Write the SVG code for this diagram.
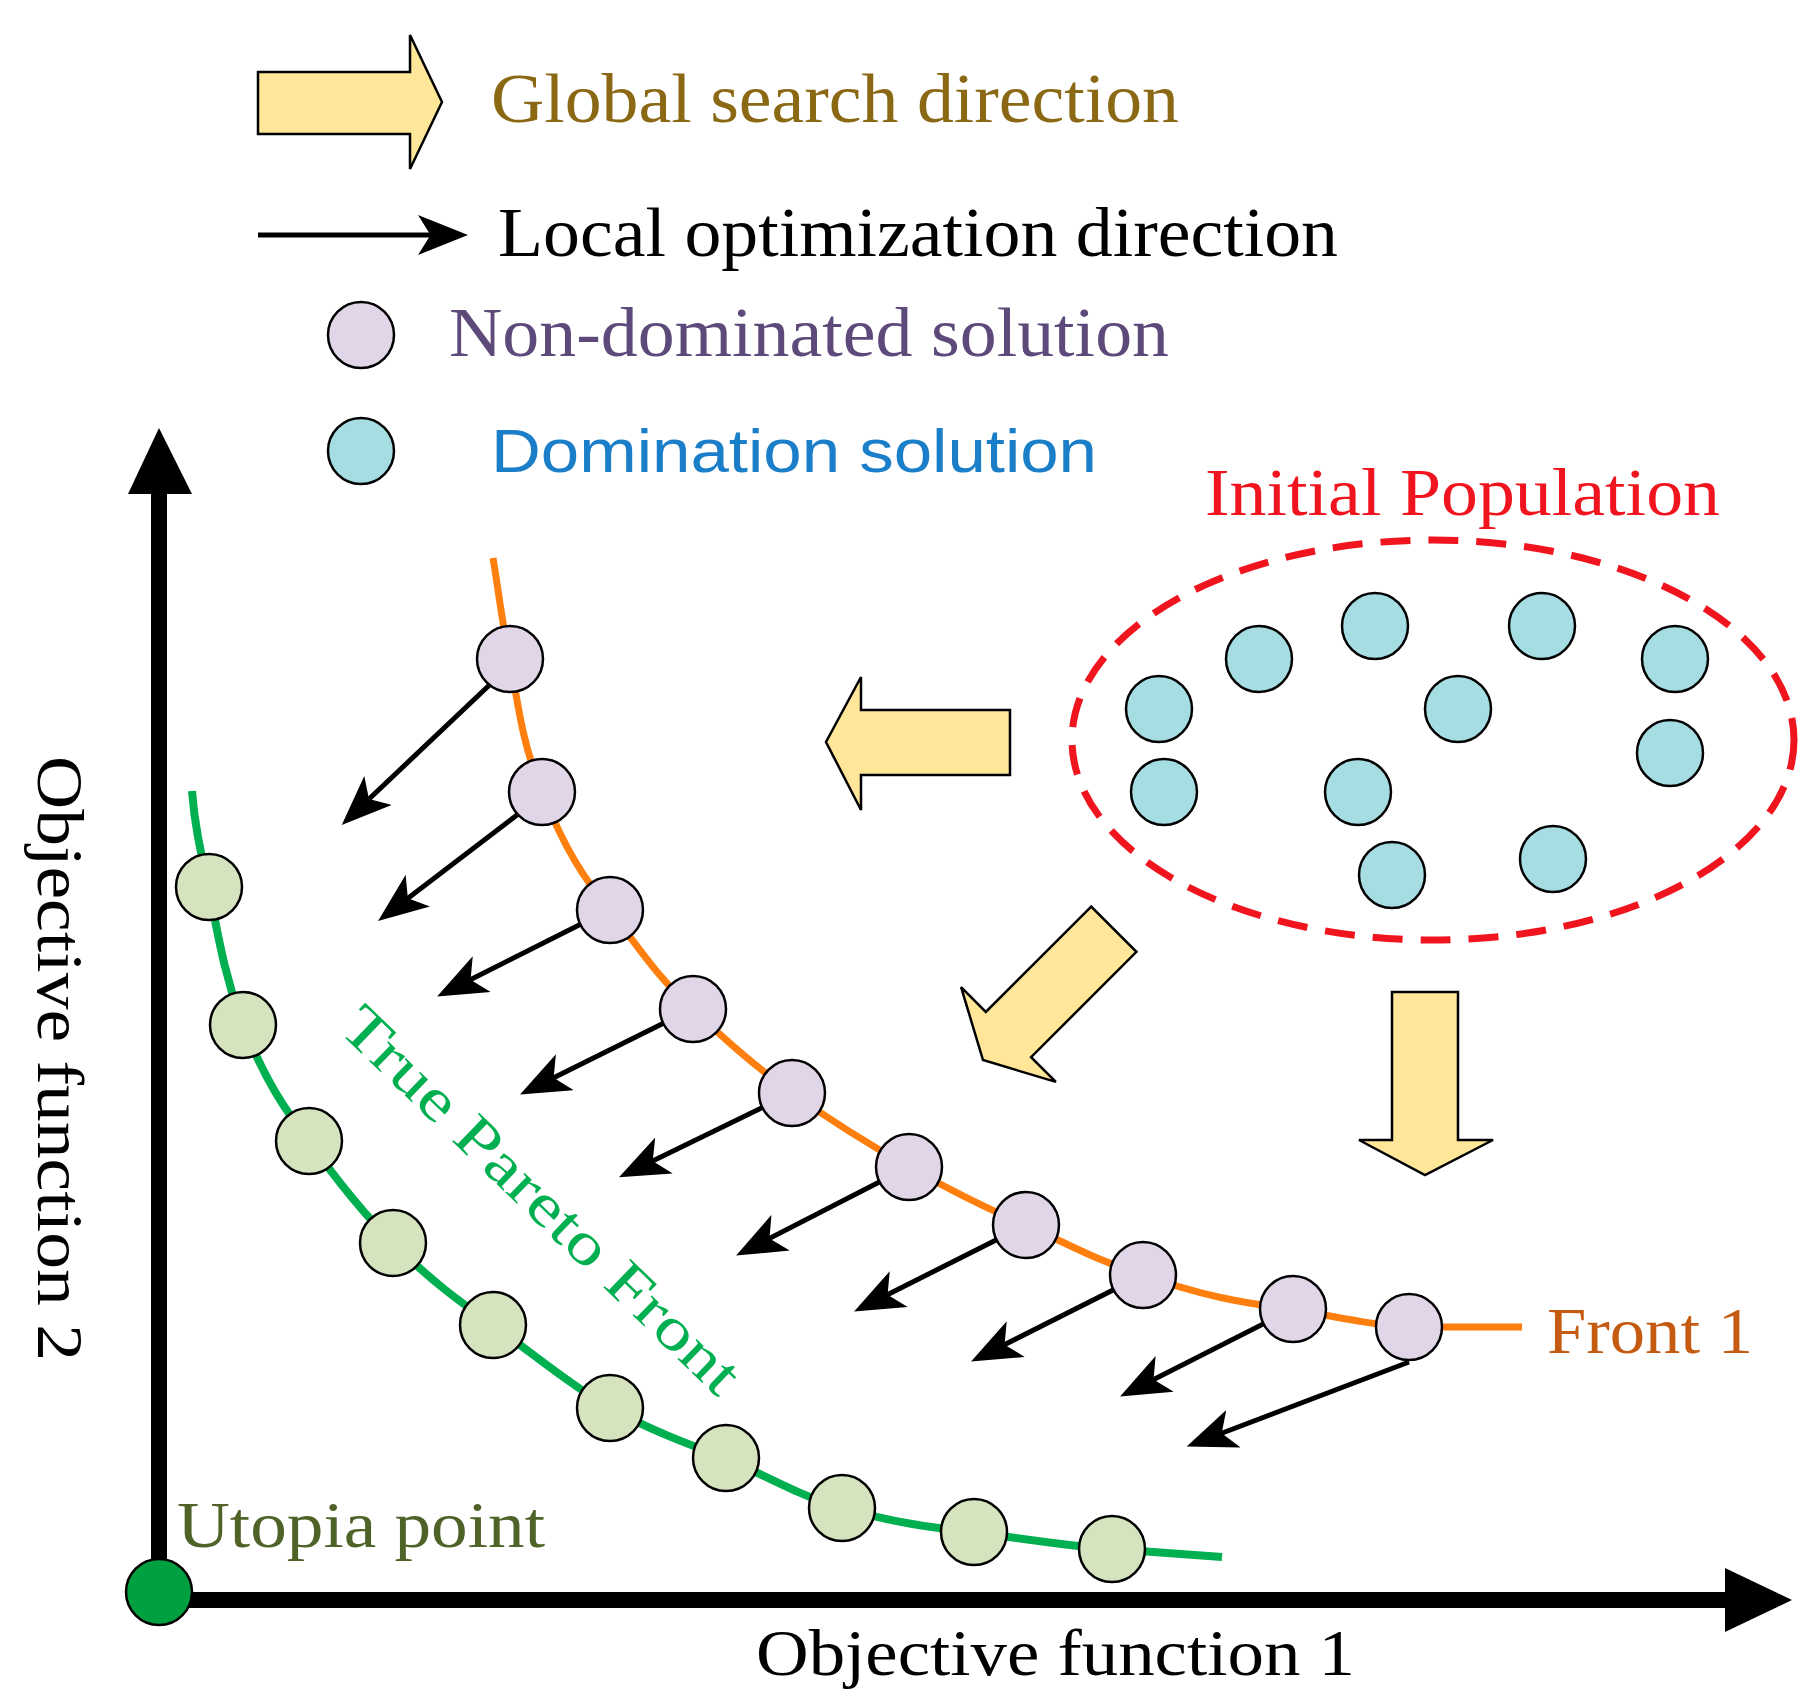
<svg xmlns="http://www.w3.org/2000/svg" width="1815" height="1702" viewBox="0 0 1815 1702">
<defs>
<marker id="ah" markerWidth="10" markerHeight="8" refX="8" refY="4" orient="auto" markerUnits="strokeWidth"><path d="M0,0 L10,4 L0,8 L2.5,4 Z" fill="#000"/></marker>
</defs>
<style>
.t{font-family:"Liberation Serif","Times New Roman",serif}
.ya{fill:#ffe699;stroke:#000;stroke-width:2.5}
.pc{fill:#e0d6e8;stroke:#000;stroke-width:2.5}
.cc{fill:#a5dde3;stroke:#000;stroke-width:2.5}
.gc{fill:#d5e3bf;stroke:#000;stroke-width:2.5}
.la{stroke:#000;stroke-width:5;fill:none;marker-end:url(#ah)}
</style>
<rect width="1815" height="1702" fill="#fff"/>
<g id="legend">
<path class="ya" d="M258,72 H410 V35 L442,102 L410,169 V134 H258 Z"/>
<text class="t" x="491" y="122" font-size="70" fill="#8b6914" textLength="688" lengthAdjust="spacingAndGlyphs">Global search direction</text>
<line class="la" x1="258" y1="235" x2="458" y2="235"/>
<text class="t" x="498" y="256" font-size="70" fill="#000" textLength="840" lengthAdjust="spacingAndGlyphs">Local optimization direction</text>
<circle class="pc" cx="361" cy="335" r="33"/>
<text class="t" x="449" y="356" font-size="70" fill="#5e4a7a" textLength="720" lengthAdjust="spacingAndGlyphs">Non-dominated solution</text>
<circle class="cc" cx="361" cy="451" r="33"/>
<text x="491" y="472" font-family="Liberation Sans,Arial,sans-serif" font-size="62" fill="#1a7fc8" textLength="606" lengthAdjust="spacingAndGlyphs">Domination solution</text>
</g>
<g id="axes">
<line x1="159" y1="1600" x2="159" y2="480" stroke="#000" stroke-width="16"/>
<path d="M128,494 L159,428 L192,494 Z" fill="#000"/>
<line x1="159" y1="1600" x2="1740" y2="1600" stroke="#000" stroke-width="16"/>
<path d="M1725,1568 L1792,1600 L1725,1632 Z" fill="#000"/>
<text class="t" x="756" y="1675" font-size="66" textLength="599" lengthAdjust="spacingAndGlyphs">Objective function 1</text>
<text class="t" transform="translate(38,756) rotate(90)" font-size="66" textLength="605" lengthAdjust="spacingAndGlyphs">Objective function 2</text>
</g>
<g id="population">
<ellipse cx="1433" cy="740" rx="361" ry="200" fill="none" stroke="#f0141e" stroke-width="7" stroke-dasharray="30,18"/>
<text class="t" x="1205" y="515" font-size="68" fill="#f0141e" textLength="515" lengthAdjust="spacingAndGlyphs">Initial Population</text>
<circle class="cc" cx="1159" cy="709" r="33"/><circle class="cc" cx="1259" cy="659" r="33"/>
<circle class="cc" cx="1375" cy="626" r="33"/><circle class="cc" cx="1542" cy="626" r="33"/>
<circle class="cc" cx="1675" cy="659" r="33"/><circle class="cc" cx="1458" cy="709" r="33"/>
<circle class="cc" cx="1670" cy="753" r="33"/><circle class="cc" cx="1164" cy="792" r="33"/>
<circle class="cc" cx="1358" cy="792" r="33"/><circle class="cc" cx="1392" cy="875" r="33"/>
<circle class="cc" cx="1553" cy="859" r="33"/>
</g>
<g id="global-arrows">
<path class="ya" d="M1010,710 H861 V677 L826,742 L861,810 V775 H1010 Z"/>
<path class="ya" d="M185,-32 H36 V-67 L0,0 L36,67 V32 H185 Z" transform="translate(983,1060) rotate(-45)"/>
<path class="ya" d="M1392,992 H1458 V1140 H1493 L1425,1175 L1359,1140 H1392 Z"/>
</g>
<g id="connectors">
<line class="la" x1="500" y1="675" x2="349" y2="818"/>
<line class="la" x1="530" y1="805" x2="386" y2="915"/>
<line class="la" x1="595" y1="917" x2="446" y2="992"/>
<line class="la" x1="678" y1="1016" x2="529" y2="1090"/>
<line class="la" x1="776" y1="1101" x2="628" y2="1173"/>
<line class="la" x1="893" y1="1175" x2="745" y2="1251"/>
<line class="la" x1="1010" y1="1233" x2="863" y2="1307"/>
<line class="la" x1="1127" y1="1283" x2="980" y2="1357"/>
<line class="la" x1="1277" y1="1317" x2="1129" y2="1392"/>
<line class="la" x1="1409" y1="1362" x2="1196" y2="1443"/>
</g>
<g id="front1">
<path d="M493,558 C500,600 503,630 510,659 C520,720 525,750 542,792 C565,850 585,880 610,910 C640,950 660,980 693,1009 C730,1045 760,1070 792,1093 C830,1120 870,1145 909,1167 C950,1190 985,1208 1026,1225 C1070,1245 1100,1262 1143,1275 C1200,1295 1240,1303 1293,1309 C1340,1318 1380,1326 1409,1327 L1522,1327" fill="none" stroke="#ff7f0e" stroke-width="7"/>
<circle class="pc" cx="510" cy="659" r="33"/><circle class="pc" cx="542" cy="792" r="33"/>
<circle class="pc" cx="610" cy="910" r="33"/><circle class="pc" cx="693" cy="1009" r="33"/>
<circle class="pc" cx="792" cy="1093" r="33"/><circle class="pc" cx="909" cy="1167" r="33"/>
<circle class="pc" cx="1026" cy="1225" r="33"/><circle class="pc" cx="1143" cy="1275" r="33"/>
<circle class="pc" cx="1293" cy="1309" r="33"/><circle class="pc" cx="1409" cy="1327" r="33"/>
<text class="t" x="1547" y="1353" font-size="66" fill="#c55a11" textLength="206" lengthAdjust="spacingAndGlyphs">Front 1</text>
</g>
<g id="true-front">
<path d="M192,791 C195,830 202,860 209,887 C220,950 228,985 243,1025 C265,1080 285,1110 309,1141 C340,1185 365,1215 393,1243 C430,1280 460,1302 493,1325 C535,1355 570,1385 610,1408 C650,1430 690,1445 726,1458 C770,1478 805,1498 842,1508 C890,1522 930,1528 974,1532 C1030,1540 1075,1547 1112,1549 L1222,1557" fill="none" stroke="#00b050" stroke-width="8"/>
<circle class="gc" cx="209" cy="887" r="33"/><circle class="gc" cx="243" cy="1025" r="33"/>
<circle class="gc" cx="309" cy="1141" r="33"/><circle class="gc" cx="393" cy="1243" r="33"/>
<circle class="gc" cx="493" cy="1325" r="33"/><circle class="gc" cx="610" cy="1408" r="33"/>
<circle class="gc" cx="726" cy="1458" r="33"/><circle class="gc" cx="842" cy="1508" r="33"/>
<circle class="gc" cx="974" cy="1532" r="33"/><circle class="gc" cx="1112" cy="1549" r="33"/>
<text class="t" transform="translate(337,1030) rotate(44)" font-size="60" fill="#00b050" textLength="530" lengthAdjust="spacingAndGlyphs">True Pareto Front</text>
</g>
<g id="utopia">
<circle cx="159" cy="1592" r="33" fill="#00a040" stroke="#000" stroke-width="2.5"/>
<text class="t" x="177" y="1547" font-size="66" fill="#4f6228" textLength="368" lengthAdjust="spacingAndGlyphs">Utopia point</text>
</g>
</svg>
